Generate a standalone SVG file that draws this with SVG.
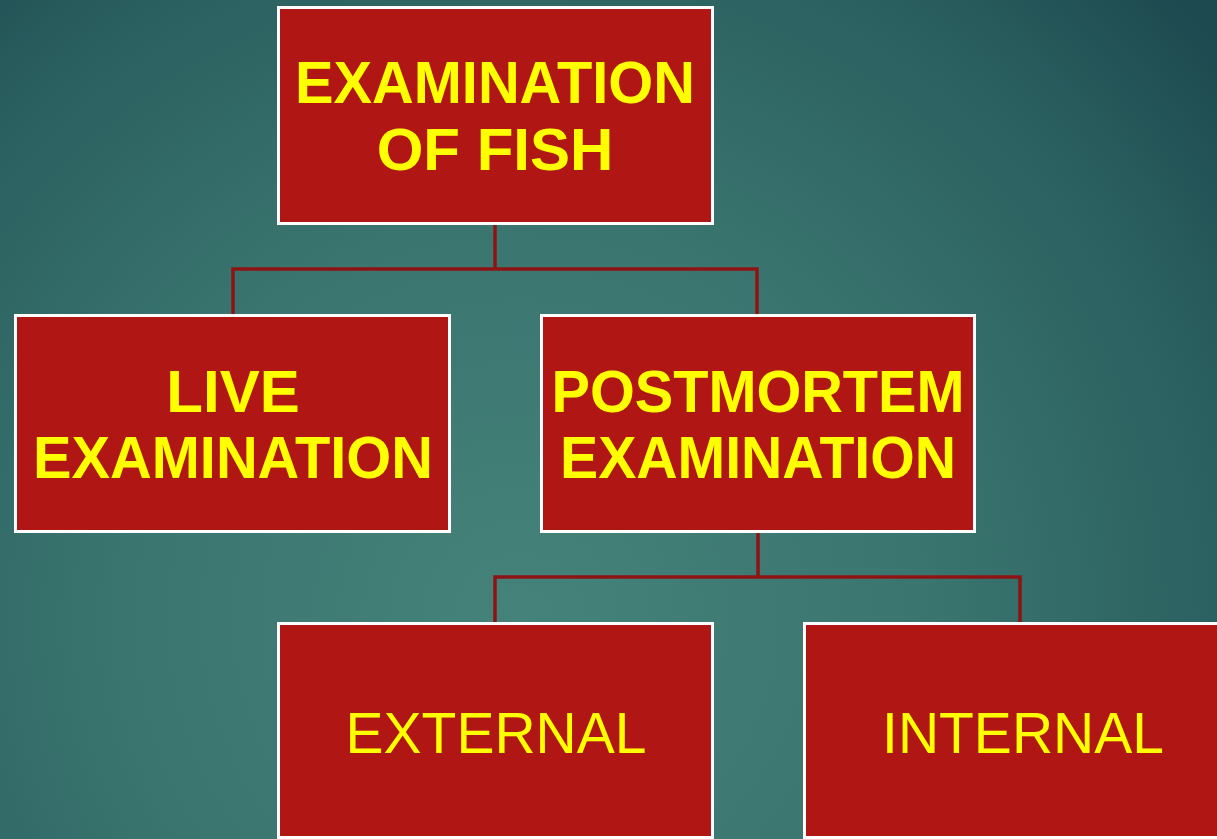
<svg xmlns="http://www.w3.org/2000/svg" width="1217" height="839" viewBox="0 0 1217 839">
  <defs>
    <radialGradient id="bg" gradientUnits="userSpaceOnUse" cx="520" cy="620" r="900" fx="520" fy="620">
      <stop offset="0" stop-color="#45837a"/>
      <stop offset="0.45" stop-color="#3a756f"/>
      <stop offset="0.8" stop-color="#2a5f5f"/>
      <stop offset="1" stop-color="#1d4a50"/>
    </radialGradient>
    <style>
      .box { fill: #b01614; stroke: #ffffff; stroke-width: 3; }
      .conn { fill: none; stroke: #8e1414; stroke-width: 3.5; }
      .bold { font-family: "Liberation Sans", Arial, sans-serif; font-weight: bold; font-size: 60px; fill: #ffff00; text-anchor: middle; }
      .reg { font-family: "Liberation Sans", Arial, sans-serif; font-size: 57px; fill: #ffff00; text-anchor: middle; }
    </style>
  </defs>
  <rect x="0" y="0" width="1217" height="839" fill="url(#bg)"/>
  <g id="connectors">
    <path class="conn" d="M495 224 V269 M233 315 V269 H757 V315"/>
    <path class="conn" d="M758 532 V577 M495 623 V577 H1020 V623"/>
  </g>
  <g id="node-examination-of-fish">
    <rect class="box" x="278.5" y="7.5" width="434" height="216"/>
    <text class="bold" x="495" y="103" textLength="400" lengthAdjust="spacingAndGlyphs">EXAMINATION</text>
    <text class="bold" x="495" y="170">OF FISH</text>
  </g>
  <g id="node-live-examination">
    <rect class="box" x="15.5" y="315.5" width="434" height="216"/>
    <text class="bold" x="233" y="412">LIVE</text>
    <text class="bold" x="233" y="478" textLength="400" lengthAdjust="spacingAndGlyphs">EXAMINATION</text>
  </g>
  <g id="node-postmortem-examination">
    <rect class="box" x="541.5" y="315.5" width="433" height="216"/>
    <text class="bold" x="758" y="412" textLength="413" lengthAdjust="spacingAndGlyphs">POSTMORTEM</text>
    <text class="bold" x="758" y="478" textLength="396" lengthAdjust="spacingAndGlyphs">EXAMINATION</text>
  </g>
  <g id="node-external">
    <rect class="box" x="278.5" y="623.5" width="434" height="214"/>
    <text class="reg" x="496" y="753">EXTERNAL</text>
  </g>
  <g id="node-internal">
    <rect class="box" x="804.5" y="623.5" width="434" height="214"/>
    <text class="reg" x="1023" y="753">INTERNAL</text>
  </g>
</svg>
